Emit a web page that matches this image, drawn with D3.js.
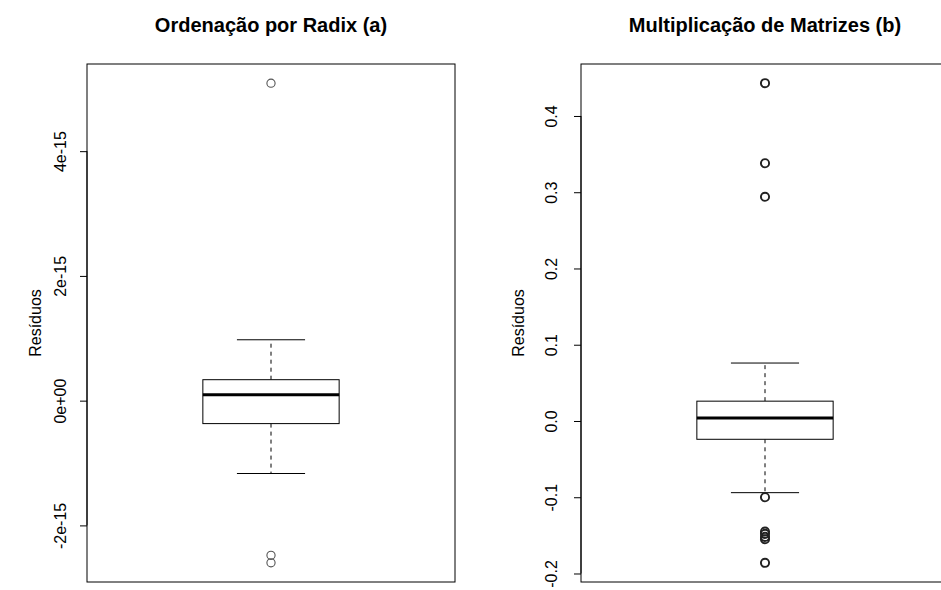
<!DOCTYPE html>
<html>
<head>
<meta charset="utf-8">
<script src="https://cdn.jsdelivr.net/npm/d3@7"></script>
<style>
  html, body { margin: 0; padding: 0; background: #fff; }
  svg { display: block; font-family: "Liberation Sans", Arial, Helvetica, sans-serif; }
</style>
</head>
<body>
<svg id="chart" width="941" height="590"></svg>
<script>
// ---- data ----
const titles = ["Ordenação por Radix (a)", "Multiplicação de Matrizes (b)"];
const yLabel = "Resíduos";
// five-number summaries: lower whisker, Q1, median, Q3, upper whisker
const radixStats = [-1.168e-15, -0.368e-15, 0.096e-15, 0.336e-15, 0.976e-15];
const radixOutliers = [5.09e-15, -2.48e-15, -2.60e-15];
const radixTicks = [-2e-15, 0, 2e-15, 4e-15];
const radixTickLabels = ["-2e-15", "0e+00", "2e-15", "4e-15"];

const matStats = [-0.094, -0.024, 0.004, 0.026, 0.076];
const matOutliers = [0.443, 0.338, 0.294, -0.100, -0.145, -0.148, -0.152, -0.155, -0.186];
const matTicks = [-0.2, -0.1, 0.0, 0.1, 0.2, 0.3, 0.4];
const matTickLabels = ["-0.2", "-0.1", "0.0", "0.1", "0.2", "0.3", "0.4"];

(function () {
const panelDefs = [
  { title: titles[0], stats: radixStats, outliers: radixOutliers, ticks: radixTicks, labels: radixTickLabels,
    left: 87, tickOff: 21, labOff: 46, ptStroke: "#555", ptWidth: 1.1 },
  { title: titles[1], stats: matStats, outliers: matOutliers, ticks: matTicks, labels: matTickLabels,
    left: 581, tickOff: 24, labOff: 57, ptStroke: "#222", ptWidth: 1.9 }
];

const svg = d3.select("#chart");
const plotW = 368, plotTop = 64, plotBottom = 582;

panelDefs.forEach(p => {
  const all = p.stats.concat(p.outliers);
  const lo = d3.min(all), hi = d3.max(all);
  const ext = (hi - lo) * 0.04;
  const y = d3.scaleLinear().domain([lo - ext, hi + ext]).range([plotBottom, plotTop]);
  const x = d3.scaleLinear().domain([0.46, 1.54]).range([p.left, p.left + plotW]);
  const g = svg.append("g");

  // frame
  g.append("rect")
    .attr("x", p.left).attr("y", plotTop)
    .attr("width", plotW).attr("height", plotBottom - plotTop)
    .attr("fill", "none").attr("stroke", "#000").attr("stroke-width", 1);

  // y axis
  const axis = d3.axisLeft(y).tickValues(p.ticks)
    .tickFormat((d, i) => p.labels[i]).tickSize(7).tickPadding(0);
  const ag = g.append("g").attr("transform", `translate(${p.left},0)`).call(axis);
  ag.select(".domain").attr("d", `M0,${y(p.ticks[0])}V${y(p.ticks[p.ticks.length - 1])}`)
    .attr("stroke", "#000");
  ag.selectAll(".tick line").attr("stroke", "#000");
  ag.selectAll(".tick text")
    .attr("font-size", 16).attr("fill", "#000")
    .attr("font-family", "Liberation Sans, Arial, sans-serif")
    .attr("text-anchor", "middle")
    .attr("transform", "rotate(-90)")
    .attr("x", 0).attr("y", -p.tickOff).attr("dy", "0");

  // y label
  g.append("text")
    .attr("transform", `translate(${p.left - p.labOff},${(plotTop + plotBottom) / 2}) rotate(-90)`)
    .attr("text-anchor", "middle")
    .attr("font-size", 16)
    .text(yLabel);

  // title
  g.append("text")
    .attr("x", p.left + plotW / 2).attr("y", 32)
    .attr("text-anchor", "middle")
    .attr("font-size", 20).attr("font-weight", "bold")
    .text(p.title);

  const [wLo, q1, med, q3, wHi] = p.stats;
  const cx = x(1);
  // whiskers
  g.append("line").attr("x1", cx).attr("x2", cx).attr("y1", y(q3)).attr("y2", y(wHi))
    .attr("stroke", "#000").attr("stroke-dasharray", "4,4");
  g.append("line").attr("x1", cx).attr("x2", cx).attr("y1", y(q1)).attr("y2", y(wLo))
    .attr("stroke", "#000").attr("stroke-dasharray", "4,4");
  [wLo, wHi].forEach(v => {
    g.append("line").attr("x1", x(0.9)).attr("x2", x(1.1)).attr("y1", y(v)).attr("y2", y(v))
      .attr("stroke", "#000");
  });
  // box
  g.append("rect")
    .attr("x", x(0.8)).attr("width", x(1.2) - x(0.8))
    .attr("y", y(q3)).attr("height", y(q1) - y(q3))
    .attr("fill", "#fff").attr("stroke", "#000").attr("stroke-width", 1);
  // median
  g.append("line").attr("x1", x(0.8)).attr("x2", x(1.2)).attr("y1", y(med)).attr("y2", y(med))
    .attr("stroke", "#000").attr("stroke-width", 3);
  // outliers
  g.selectAll("circle.out").data(p.outliers).enter().append("circle")
    .attr("class", "out")
    .attr("cx", cx).attr("cy", d => y(d)).attr("r", 4.1)
    .attr("fill", "none").attr("stroke", p.ptStroke).attr("stroke-width", p.ptWidth);
});
})();
</script>
</body>
</html>
